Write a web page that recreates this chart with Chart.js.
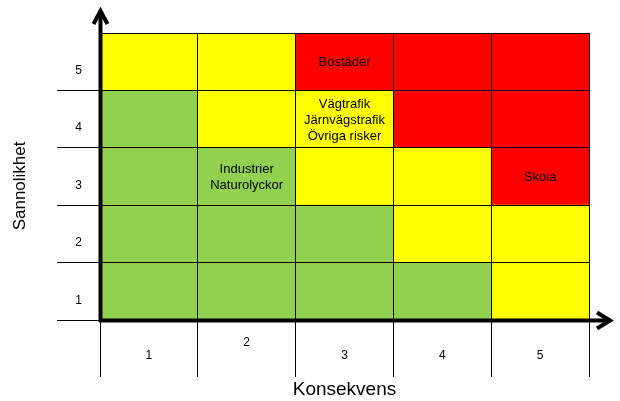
<!DOCTYPE html>
<html>
<head>
<meta charset="UTF-8">
<title>Riskmatris</title>
<script src="https://cdn.jsdelivr.net/npm/chart.js"></script>
<style>
  body { margin: 0; background: #fff; }
  #wrap { width: 620px; height: 401px; }
</style>
</head>
<body>
<div id="wrap"><canvas id="risk"></canvas></div>
<script>
// consequence (x) and probability (y) classes
const konsekvens = ['1', '2', '3', '4', '5'];
const sannolikhet = ['1', '2', '3', '4', '5'];

// risk level for each cell, one array per probability row (1 = low, 2 = medium, 3 = high)
const niva1 = [1, 1, 1, 1, 2];
const niva2 = [1, 1, 1, 2, 2];
const niva3 = [1, 1, 2, 2, 3];
const niva4 = [1, 2, 2, 3, 3];
const niva5 = [2, 2, 3, 3, 3];
const cellHeight = [1, 1, 1, 1, 1];

// named risks placed in the matrix
const riskNamn = ['Bostäder', ['Vägtrafik', 'Järnvägstrafik', 'Övriga risker'], ['Industrier', 'Naturolyckor'], 'Skola'];
const riskKonsekvens = [3, 3, 2, 5];
const riskSannolikhet = [5, 4, 3, 3];

const nivaFarg = { 1: '#92D050', 2: '#FFFF00', 3: '#FF0000' };

Chart.defaults.font.family = "'Liberation Sans', Arial, sans-serif";
Chart.defaults.color = '#000';

const rows = [niva1, niva2, niva3, niva4, niva5];
const datasets = rows.map((row, i) => ({
    label: sannolikhet[i],
    data: cellHeight,
    backgroundColor: row.map(n => nivaFarg[n]),
    borderWidth: 0,
    barPercentage: 1,
    categoryPercentage: 1,
    stack: 'matris'
}));

const riskLabels = {
    id: 'riskLabels',
    afterDraw(chart) {
        const ctx = chart.ctx;
        const xs = chart.scales.x, ys = chart.scales.y;
        ctx.save();
        ctx.fillStyle = '#000';
        ctx.font = "13px 'Liberation Sans', Arial, sans-serif";
        ctx.textAlign = 'center';
        ctx.textBaseline = 'middle';
        riskNamn.forEach((namn, i) => {
            const lines = Array.isArray(namn) ? namn : [namn];
            const cx = xs.getPixelForValue(riskKonsekvens[i] - 1);
            const cy = ys.getPixelForValue(riskSannolikhet[i] - 0.5) + 1;
            const lh = 16;
            lines.forEach((t, j) => {
                ctx.fillText(t, cx, cy + (j - (lines.length - 1) / 2) * lh);
            });
        });

        // thick axes with arrow heads
        const a = chart.chartArea;
        const x0 = a.left + 0.5, y0 = a.bottom + 0.5;
        ctx.strokeStyle = '#000';
        ctx.lineWidth = 4;
        ctx.lineJoin = 'miter';
        ctx.beginPath();
        ctx.moveTo(x0, a.bottom + 2);
        ctx.lineTo(x0, a.top - 23);
        ctx.moveTo(a.left - 1, y0);
        ctx.lineTo(a.right + 22, y0);
        ctx.stroke();
        ctx.beginPath();
        ctx.moveTo(x0 - 7, a.top - 9);
        ctx.lineTo(x0, a.top - 22);
        ctx.lineTo(x0 + 7, a.top - 9);
        ctx.moveTo(a.right + 8, y0 - 8);
        ctx.lineTo(a.right + 21, y0);
        ctx.lineTo(a.right + 8, y0 + 8);
        ctx.stroke();
        ctx.restore();
    }
};

new Chart(document.getElementById('risk'), {
    type: 'bar',
    data: { labels: konsekvens, datasets: datasets },
    options: {
        responsive: true,
        maintainAspectRatio: false,
        animation: false,
        layout: { padding: { top: 33, right: 31, left: 0, bottom: 0 } },
        plugins: { legend: { display: false }, tooltip: { enabled: false } },
        scales: {
            x: {
                stacked: true,
                offset: true,
                border: { display: false },
                grid: { offset: true, z: 1, color: '#000', lineWidth: 1, tickLength: 57 },
                ticks: {
                    padding: -41,
                    font: ctx => ({ size: 12, lineHeight: ctx.index === 1 ? '14px' : '40px' })
                },
                title: { display: true, text: 'Konsekvens', font: { size: 19 }, padding: { top: 0, bottom: 0 } },
                afterFit(s) { s.height = 81; }
            },
            y: {
                stacked: true,
                min: 0,
                max: 5,
                border: { display: false },
                afterBuildTicks(s) {
                    s.ticks = [0, 0.5, 1, 1.5, 2, 2.5, 3, 3.5, 4, 4.5, 5].map(v => ({ value: v }));
                },
                grid: {
                    z: 1,
                    tickLength: 43,
                    lineWidth: 1,
                    color: c => Number.isInteger(c.tick.value) ? '#000' : 'rgba(0,0,0,0)',
                    tickColor: c => (Number.isInteger(c.tick.value) && c.tick.value < 5) ? '#000' : 'rgba(0,0,0,0)'
                },
                ticks: {
                    padding: -25,
                    labelOffset: 9,
                    font: { size: 12 },
                    callback: v => Number.isInteger(v) ? '' : sannolikhet[v - 0.5]
                },
                title: { display: true, text: 'Sannolikhet    ', font: { size: 17 }, padding: { top: 10, bottom: 0 } },
                afterFit(s) { s.width = 100; }
            }
        }
    },
    plugins: [riskLabels]
});
</script>
</body>
</html>
